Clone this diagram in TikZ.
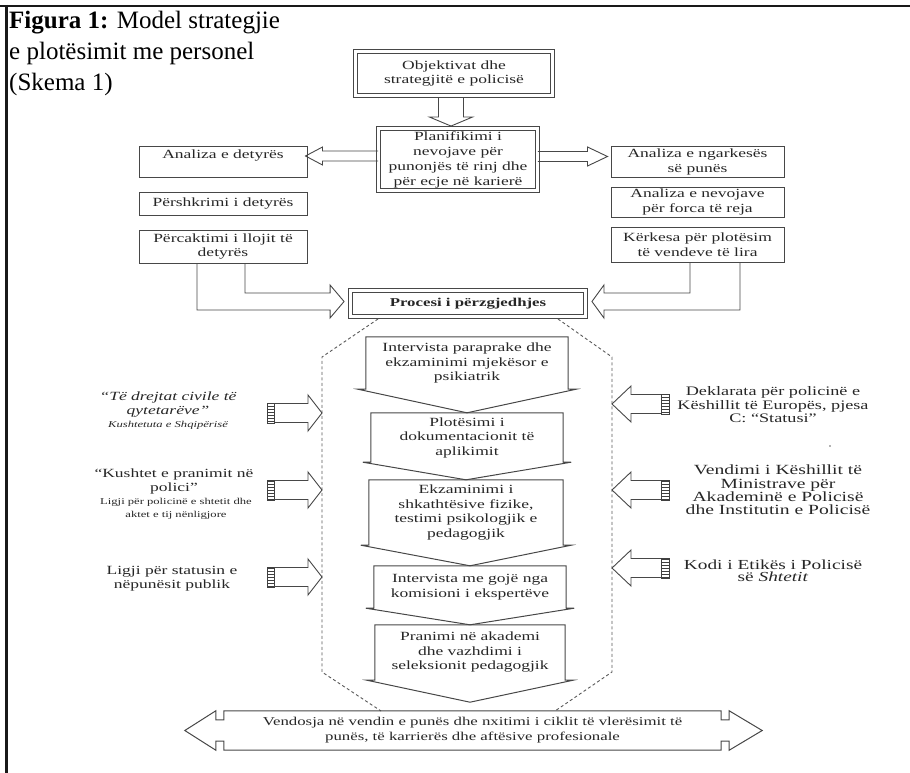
\documentclass[tikz,border=0pt]{standalone}
\usepackage{fontspec}
\setmainfont{Liberation Serif}
\newfontfamily\dg[FakeStretch=1.4]{Liberation Serif}
\usetikzlibrary{calc,patterns}
% horizontal hollow arrow: #1 start, #2 tip, #3 shaft half, #4 head half, #5 signed head length
\newcommand\harr[5]{%
  \draw[hol] let \p1=#1, \p2=#2 in (\x1,\y2+#3) -- ({\x2-(#5)},\y2+#3) -- ({\x2-(#5)},\y2+#4) -- (\x2,\y2)
    -- ({\x2-(#5)},\y2-#4) -- ({\x2-(#5)},\y2-#3) -- (\x1,\y2-#3);}
\begin{document}
\begin{tikzpicture}[x=1pt,y=-1pt]
\useasboundingbox (0,0) rectangle (910,773);
\tikzset{
  ln/.style={draw=black!72, line width=1pt},
  txt/.style={font=\dg\fontsize{12.5}{14.5}\selectfont, text=black!85, align=center, inner sep=0pt},
  dbl/.style={draw=black!72, double=white, double distance=3.2pt, line width=0.9pt},
  hol/.style={draw=black!72, line width=0.9pt, line join=miter},
  dsh/.style={draw=black!65, line width=0.9pt, dash pattern=on 3pt off 2.5pt},
  hatchbox/.style={draw=black!75, line width=0.7pt, pattern=horizontal lines, pattern color=black!75},
  captxt/.style={font=\fontsize{25}{30}\selectfont, inner sep=0pt, anchor=base west}
}
% frame
\draw[line width=2.5pt, black!90] (0,6) -- (910,6);
\draw[line width=3pt, black!90] (6,4.8) -- (6,773);
% caption
\node[captxt] (c1) at (9,29) {\textbf{Figura 1:} Model strategjie};
\node[captxt] (c2) at (9,60) {e plotësimit me personel};
\node[captxt] (c3) at (9,91) {(Skema 1)};

% top boxes
\node[txt, dbl, minimum width=197pt, minimum height=44pt] (obj) at (454,73.5) {Objektivat dhe\\strategjitë e policisë};
\node[txt, dbl, font=\dg\fontsize{12.5}{15}\selectfont, minimum width=159pt, minimum height=62pt] (plan) at (458,159.5)
  {Planifikimi i\\nevojave për\\punonjës të rinj dhe\\për ecje në karierë};
\node[ln, minimum width=168pt, minimum height=30pt] (ana1) at (223,162) {};
\node[txt, anchor=north] (ana1t) at ($(ana1.north)+(0,3.5)$) {Analiza e detyrës};
\node[txt, ln, minimum width=168pt, minimum height=23pt] (pers) at (223,203.5) {Përshkrimi i detyrës};
\node[txt, ln, minimum width=168pt, minimum height=33pt] (perc) at (223,246.5) {Përcaktimi i llojit të\\detyrës};
\node[txt, ln, minimum width=173pt, minimum height=30pt] (ngar) at (697.5,162) {Analiza e ngarkesës\\së punës};
\node[txt, ln, minimum width=173pt, minimum height=30pt] (nev) at (697.5,202) {Analiza e nevojave\\për forca të reja};
\node[txt, ln, minimum width=173pt, minimum height=35pt] (kerk) at (697.5,244.5) {Kërkesa për plotësim\\të vendeve të lira};
\node[txt, dbl, minimum width=235pt, minimum height=26pt] (proc) at (468,303.5) {\bfseries\fontsize{12}{14}\selectfont Procesi i përzgjedhjes};

% arrows at the top
\draw[hol] let \p1=($(obj.south)+(-3,2)$), \p2=($(plan.north)+(-7,-2)$) in
  (\x1-12.5,\y1) -- (\x1-12.5,\y2+9) -- (\x1-21.5,\y2+9) -- (\x1,\y2) -- (\x1+21.5,\y2+9) -- (\x1+12.5,\y2+9) -- (\x1+12.5,\y1);
\harr{(plan.west)}{($(ana1.east)+(-2,-6)$)}{5}{9}{-17}
\harr{(plan.east)}{($(ngar.west)+(-3,-5.5)$)}{5}{9.5}{20}
\draw[hol] let \p1=(perc.south), \p2=(proc.west) in
  (\x1-26,\y1) |- (\x2-20,\y2-6.5) -- (\x2-20,\y2-14.5) -- (\x2-6,\y2+2) -- (\x2-20,\y2+18.5) -- (\x2-20,\y2+10.5) -| (\x1+22,\y1);
\draw[hol] let \p1=(kerk.south), \p2=(proc.east) in
  (\x1+42.5,\y1) |- (\x2+18,\y2-6.5) -- (\x2+18,\y2-14.5) -- (\x2+6,\y2+2) -- (\x2+18,\y2+18.5) -- (\x2+18,\y2+10.5) -| (\x1-7.5,\y1);

% dashed hexagon
\coordinate (h1) at (378,319);
\coordinate (h2) at (322,357);
\coordinate (h3) at (322,672);
\coordinate (h4) at (381,711);
\coordinate (h5) at (555,711);
\coordinate (h6) at (612,672);
\coordinate (h7) at (612,357);
\coordinate (h8) at (558,319);
\draw[dsh] (h1) -- (h2) -- (h3) -- (h4);
\draw[dsh] (h8) -- (h7) -- (h6) -- (h5);

% process steps
\node[txt, minimum width=202pt, minimum height=52pt] (p1) at (467,363) {Intervista paraprake dhe\\ekzaminimi mjekësor e\\psikiatrik};
\node[txt, minimum width=192pt, minimum height=49pt] (p2) at (467,437.5) {Plotësimi i\\dokumentacionit të\\aplikimit};
\node[txt, minimum width=194pt, minimum height=65pt] (p3) at (466,512.5) {Ekzaminimi i\\shkathtësive fizike,\\testimi psikologjik e\\pedagogjik};
\node[txt, minimum width=192pt, minimum height=42pt] (p4) at (470,587) {Intervista me gojë nga\\komisioni i ekspertëve};
\node[txt, minimum width=190pt, minimum height=55pt] (p5) at (470,652.5) {Pranimi në akademi\\dhe vazhdimi i\\seleksionit pedagogjik};
\draw[ln] (p1.south west) -- (p1.north west) -- (p1.north east) -- (p1.south east) -- ++(8,0) -- (p2.north) -- ($(p1.south west)+(-8,0)$) -- cycle;
\draw[ln] (p2.south west) -- (p2.north west) -- (p2.north east) -- (p2.south east) -- ++(8,0) -- (p3.north) -- ($(p2.south west)+(-8,0)$) -- cycle;
\draw[ln] (p3.south west) -- (p3.north west) -- (p3.north east) -- (p3.south east) -- ++(8,0) -- (p4.north) -- ($(p3.south west)+(-8,0)$) -- cycle;
\draw[ln] (p4.south west) -- (p4.north west) -- (p4.north east) -- (p4.south east) -- ++(8,0) -- (p5.north) -- ($(p4.south west)+(-8,0)$) -- cycle;
\coordinate (p5tip) at ($(p5.south)+(0,22)$);
\draw[ln] (p5.south west) -- (p5.north west) -- (p5.north east) -- (p5.south east) -- ++(8,0) -- (p5tip) -- ($(p5.south west)+(-8,0)$) -- cycle;

% bottom double arrow
\node[txt, font=\dg\fontsize{12}{15}\selectfont, minimum width=497pt, minimum height=39pt] (bot) at (472.5,730.5)
  {Vendosja në vendin e punës dhe nxitimi i ciklit të vlerësimit të\\punës, të karrierës dhe aftësive profesionale};
\draw[ln] let \p1=(bot.north west), \p2=(bot.south east) in
  (\x1,\y1) -- (\x2,\y1) -- (\x2,\y1-9) -- (\x2+8,\y1-9) -- (\x2+8,\y1) -- (\x2+41,{(\y1+\y2)/2}) -- (\x2+8,\y2)
  -- (\x2+8,\y2+9) -- (\x2,\y2+9) -- (\x2,\y2) -- (\x1,\y2) -- (\x1,\y2+9) -- (\x1-8,\y2+9) -- (\x1-8,\y2)
  -- (\x1-39,{(\y1+\y2)/2}) -- (\x1-8,\y1) -- (\x1-8,\y1-9) -- (\x1,\y1-9) -- cycle;

% left texts
\node[txt, font=\dg\itshape\fontsize{12.5}{14}\selectfont] (lt1) at (168,405) {“Të drejtat civile të\\qytetarëve”};
\node[txt, font=\dg\itshape\fontsize{9}{11}\selectfont] (lt1b) at (168,425.5) {Kushtetuta e Shqipërisë};
\node[txt, font=\dg\fontsize{12.5}{13.5}\selectfont] (lt2) at (174,481.5) {“Kushtet e pranimit në\\polici”};
\node[txt, font=\dg\fontsize{9}{13}\selectfont] (lt2b) at (176,508.5) {Ligji për policinë e shtetit dhe\\aktet e tij nënligjore};
\node[txt, font=\dg\fontsize{12.5}{13.5}\selectfont] (lt3) at (172,578.5) {Ligji për statusin e\\nëpunësit publik};

% right texts
\node[txt, font=\dg\fontsize{13}{13.5}\selectfont] (rt1) at (773,405) {Deklarata për policinë e\\Këshillit të Europës, pjesa\\C: “Statusi”};
\node[txt, font=\dg\fontsize{14}{13.4}\selectfont] (rt2) at (778,490) {Vendimi i Këshillit të\\Ministrave për\\Akademinë e Policisë\\dhe Institutin e Policisë};
\node[txt, font=\dg\fontsize{13.8}{12.5}\selectfont] (rt3) at (773,571) {Kodi i Etikës i Policisë\\së \textit{Shtetit}};
\fill[black!60] (830,446) circle (0.8);

% left side arrows
\coordinate (lb1) at (267,413); \coordinate (lk1) at (322,413);
\coordinate (lb2) at (267,490); \coordinate (lk2) at (322,490);
\coordinate (lb3) at (267,577); \coordinate (lk3) at (322,577);
\draw[hatchbox] ($(lb1)+(0,-10)$) rectangle ($(lb1)+(7,10)$);
\draw[hatchbox] ($(lb2)+(0,-10)$) rectangle ($(lb2)+(7,10)$);
\draw[hatchbox] ($(lb3)+(0,-10)$) rectangle ($(lb3)+(7,10)$);
\harr{($(lb1)+(7,0)$)}{(lk1)}{9.5}{18}{14}
\harr{($(lb2)+(7,0)$)}{(lk2)}{9.5}{18}{14}
\harr{($(lb3)+(7,0)$)}{(lk3)}{9.5}{18}{14}

% right side arrows
\coordinate (rb1) at (669,404); \coordinate (rk1) at (612,404);
\coordinate (rb2) at (669,490); \coordinate (rk2) at (612,490);
\coordinate (rb3) at (669,568); \coordinate (rk3) at (612,568);
\draw[hatchbox] ($(rb1)+(-8,-10)$) rectangle ($(rb1)+(0,10)$);
\draw[hatchbox] ($(rb2)+(-8,-10)$) rectangle ($(rb2)+(0,10)$);
\draw[hatchbox] ($(rb3)+(-8,-10)$) rectangle ($(rb3)+(0,10)$);
\harr{($(rb1)+(-8,0)$)}{(rk1)}{9.5}{18}{-19}
\harr{($(rb2)+(-8,0)$)}{(rk2)}{9.5}{18}{-19}
\harr{($(rb3)+(-8,0)$)}{(rk3)}{9.5}{18}{-19}
\end{tikzpicture}
\end{document}
